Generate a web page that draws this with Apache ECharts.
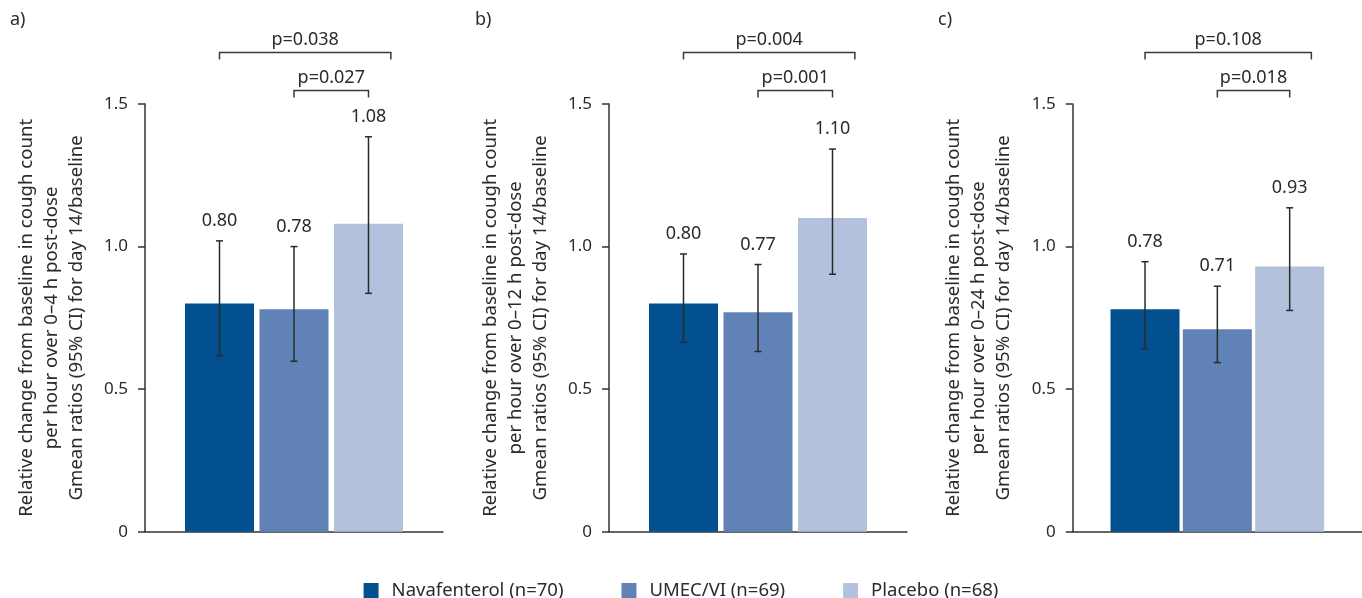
<!DOCTYPE html>
<html>
<head>
<meta charset="utf-8">
<script src="https://cdn.jsdelivr.net/npm/echarts@6/dist/echarts.min.js"></script>
<style>
  html, body { margin: 0; padding: 0; background: #fff; }
  #chart { width: 1362px; height: 598px; }
</style>
</head>
<body>
<div id="chart"></div>
<script>
// ---- data ----
const groups = ['Navafenterol (n=70)', 'UMEC/VI (n=69)', 'Placebo (n=68)'];
const panelLabels = ['a)', 'b)', 'c)'];
const timeWindows = ['0–4 h', '0–12 h', '0–24 h'];
const yTickValues = [0, 0.5, 1.0, 1.5];

const gmeanA = [0.80, 0.78, 1.08];
const ciLowA = [0.617, 0.598, 0.836];
const ciHighA = [1.02, 1.00, 1.385];

const gmeanB = [0.80, 0.77, 1.10];
const ciLowB = [0.664, 0.632, 0.903];
const ciHighB = [0.974, 0.937, 1.342];

const gmeanC = [0.78, 0.71, 0.93];
const ciLowC = [0.642, 0.593, 0.776];
const ciHighC = [0.947, 0.861, 1.136];

// comparisons: [groupIndex1, groupIndex2]
const comparisons = [[0, 2], [1, 2]];
const pValuesA = ['p=0.038', 'p=0.027'];
const pValuesB = ['p=0.004', 'p=0.001'];
const pValuesC = ['p=0.108', 'p=0.018'];

// ---- styling ----
const colors = ['#02508f', '#6082b6', '#b3c1dc'];
const FONT = '"Noto Sans", "Open Sans", sans-serif';
const TXT = '#2b2b2b';
const AX = '#333333';

const panels = [
  { g: gmeanA, lo: ciLowA, hi: ciHighA, p: pValuesA },
  { g: gmeanB, lo: ciLowB, hi: ciHighB, p: pValuesB },
  { g: gmeanC, lo: ciLowC, hi: ciHighC, p: pValuesC }
];
const lefts = [145, 609, 1072.7];
const gridW = 298, gridTop = 104, gridH = 427.7;
const bracketLevels = [1.681, 1.547];

const grid = [], xAxis = [], yAxis = [], series = [], graphic = [];
const cats = ['', ...groups, ''];

panels.forEach((pn, k) => {
  grid.push({ left: lefts[k], top: gridTop, width: gridW, height: gridH, containLabel: false });
  xAxis.push({
    type: 'category', gridIndex: k, data: cats, boundaryGap: false,
    axisLine: { lineStyle: { color: AX, width: 1.5 } },
    axisTick: { show: false }, axisLabel: { show: false }, splitLine: { show: false }
  });
  yAxis.push({
    type: 'value', gridIndex: k, min: yTickValues[0], max: yTickValues[yTickValues.length - 1],
    interval: yTickValues[1] - yTickValues[0],
    name: 'Relative change from baseline in cough count\nper hour over ' + timeWindows[k] +
          ' post-dose\nGmean ratios (95% CI) for day 14/baseline',
    nameLocation: 'middle', nameGap: 56,
    nameTextStyle: { fontFamily: FONT, fontSize: 18.6, color: TXT, lineHeight: 25 },
    axisLine: { show: true, lineStyle: { color: AX, width: 1.5 } },
    axisTick: { show: true, length: 7, lineStyle: { color: AX, width: 1.5 } },
    axisLabel: {
      margin: 17, fontFamily: FONT, fontSize: 17, color: TXT,
      formatter: v => (v === 0 ? '0' : v.toFixed(1))
    },
    splitLine: { show: false }
  });
  groups.forEach((name, i) => {
    const d = cats.map((c, j) => (j === i + 1 ? pn.g[i] : '-'));
    series.push({
      type: 'bar', name: name, xAxisIndex: k, yAxisIndex: k, data: d, z: 2,
      barWidth: 69, barGap: '-100%', itemStyle: { color: colors[i] }, silent: true
    });
  });
  // error bars + value labels
  series.push({
    type: 'custom', xAxisIndex: k, yAxisIndex: k, clip: false, silent: true, z: 10,
    data: groups.map((n, i) => [i + 1, pn.lo[i], pn.hi[i], pn.g[i]]),
    renderItem: (params, api) => {
      const top = api.coord([api.value(0), api.value(2)]);
      const bot = api.coord([api.value(0), api.value(1)]);
      const x = top[0], cap = 3.5;
      const ls = { stroke: '#2a2a2a', lineWidth: 1.5 };
      return {
        type: 'group', children: [
          { type: 'line', shape: { x1: x, y1: top[1], x2: x, y2: bot[1] }, style: ls },
          { type: 'line', shape: { x1: x - cap, y1: top[1], x2: x + cap, y2: top[1] }, style: ls },
          { type: 'line', shape: { x1: x - cap, y1: bot[1], x2: x + cap, y2: bot[1] }, style: ls },
          { type: 'text', style: {
              text: api.value(3).toFixed(2), x: x, y: top[1] - 20,
              align: 'center', verticalAlign: 'middle',
              fontFamily: FONT, fontSize: 18, fill: TXT } }
        ]
      };
    }
  });
  // significance brackets
  series.push({
    type: 'custom', xAxisIndex: k, yAxisIndex: k, clip: false, silent: true, z: 10,
    data: comparisons.map((c, j) => [c[0] + 1, c[1] + 1, bracketLevels[j], j]),
    renderItem: (params, api) => {
      const j = api.value(3);
      const a = api.coord([api.value(0), api.value(2)]);
      const b = api.coord([api.value(1), api.value(2)]);
      const step = api.coord([1, 0])[0] - api.coord([0, 0])[0];
      const extra = j === 0 ? 0.3 * step : 0;
      const x1 = a[0], x2 = b[0] + extra, y = a[1];
      const ls = { stroke: '#3a3a3a', lineWidth: 1.5, fill: null };
      return {
        type: 'group', children: [
          { type: 'polyline', shape: { points: [[x1, y + 7], [x1, y], [x2, y], [x2, y + 7]] }, style: ls },
          { type: 'text', style: {
              text: pn.p[j], x: (x1 + x2) / 2, y: y - 13,
              align: 'center', verticalAlign: 'middle',
              fontFamily: FONT, fontSize: 18, fill: TXT } }
        ]
      };
    }
  });
  graphic.push({
    type: 'text', left: [10, 475, 938][k], top: 11,
    style: { text: panelLabels[k], fontFamily: FONT, fontSize: 18, fill: TXT }
  });
});

const chart = echarts.init(document.getElementById('chart'), null, { renderer: 'canvas' });
chart.setOption({
  animation: false,
  backgroundColor: '#ffffff',
  textStyle: { fontFamily: FONT },
  grid, xAxis, yAxis, series, graphic,
  legend: {
    data: groups, left: 'center', top: 576,
    itemWidth: 15, itemHeight: 15, itemGap: 58, icon: 'rect',
    textStyle: { fontFamily: FONT, fontSize: 18.5, color: TXT, padding: [0, 0, 0, 8] },
    selectedMode: false
  }
});
</script>
</body>
</html>
